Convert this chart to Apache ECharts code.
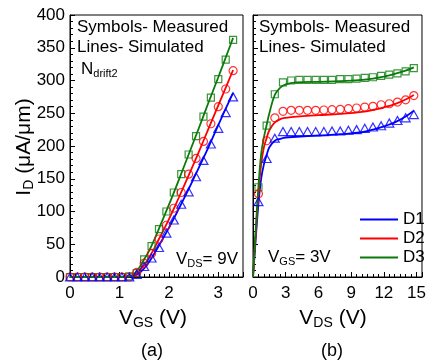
<!DOCTYPE html>
<html><head><meta charset="utf-8">
<script src="https://cdn.jsdelivr.net/npm/echarts@6/dist/echarts.min.js"></script>
<style>html,body{margin:0;padding:0;background:#fff}#c{width:429px;height:363px}</style>
</head><body><div id="c"></div>
<script>
// ---------- Panel (a): ID vs VGS, VDS = 9 V ----------
const vgsMeas = [0,0.15,0.3,0.45,0.6,0.75,0.9,1.05,1.2,1.35,1.5,1.65,1.8,1.95,2.1,2.25,2.4,2.55,2.7,2.85,3.0,3.15,3.3];
const aMeasD1 = [0,0,0,0,0,0,0,0,0,4,16,29,45,67,87,111,130,153,178,203,227,251,275];
const aMeasD2 = [0,0,0,0,0,0,0,0,0,7,21,36,58,79,105,129,157,181,207,234,260,287,315];
const aMeasD3 = [0,0,0,0,0,0,0,0,1,6,27,47,73,100,129,157,187,215,245,274,302,332,362];
const vgsSim = [0,0.5,1.0,1.2,1.3,1.4,1.5,1.6,1.7,1.8,2.0,2.2,2.4,2.6,2.8,3.0,3.2,3.3];
const aSimD1 = [0,0,0,1,2,6,13,23,35,48,75,104,134,166,198,232,265,281];
const aSimD2 = [0,0,0,1,3,9,18,30,43,58,88,121,155,190,226,262,298,316];
const aSimD3 = [0,0,0,1,5,14,27,40,56,74,110,148,187,226,266,305,345,365];

// ---------- Panel (b): ID vs VDS, VGS = 3 V ----------
const vdsMeas = [0.5,1.25,2.0,2.75,3.5,4.25,5.0,5.75,6.5,7.25,8.0,8.75,9.5,10.25,11.0,11.75,12.5,13.25,14.0,14.75];
const bMeasD1 = [115,181,212,222,222,222,222,222,222,223,223,224,225,227,229,231,235,239,243,248];
const bMeasD2 = [127,208,243,253,254.5,254.5,254.5,254.5,255,255.5,256,257,258,259.5,260.5,263,264.5,267,270.5,277];
const bMeasD3 = [137,231,279,297,300,301,301,301,301,301,302,302,303,304,305,307,309,311,314,319];
const vdsSim = [0,0.25,0.5,0.75,1.0,1.25,1.5,2.0,2.5,3.0,4.0,6.0,8.0,10.0,11.0,12.0,13.0,14.0,14.75];
const bSimD1 = [0,58,112,150,172,186,198,208,211,213,214,216,218,221,225,230,236,245,254];
const bSimD2 = [0,66,128,172,198,212,224,236,241,243,245,247,249,252,255,259,264,271,278];
const bSimD3 = [0,72,138,188,213,232,250,278,289,294,297,298,299,301,303,306,310,315,320];

const xTicksA = [0,1,2,3];
const xTicksB = [0,3,6,9,12,15];
const yTicks = [0,50,100,150,200,250,300,350,400];
const seriesNames = ['D1','D2','D3'];

const BLUE = '#0000FF', RED = '#FF0000', GREEN = '#0A7A0A';
const COLORS = [BLUE, RED, GREEN];
const FONT = '"Liberation Sans", Arial, Helvetica, sans-serif';

function pairs(xs, ys){ return xs.map((x,i)=>[x, ys[i]]); }

const chart = echarts.init(document.getElementById('c'), null, {renderer:'canvas'});

function xAxisCfg(gi, min, max, interval, minorSplit){
  return {
    gridIndex: gi, type:'value', min, max, interval,
    axisLine:{show:true, onZero:false, lineStyle:{color:'#000', width:1}},
    axisTick:{show:true, inside:true, length:5, lineStyle:{color:'#000'}},
    minorTick:{show:true, splitNumber:minorSplit, length:3, lineStyle:{color:'#000'}},
    splitLine:{show:false},
    axisLabel:{show:true, color:'#000', fontSize:17, fontFamily:FONT, margin:8, showMaxLabel:false, showMinLabel:true}
  };
}
function yAxisCfg(gi, showLabel){
  return {
    gridIndex: gi, type:'value', min:yTicks[0], max:yTicks[yTicks.length-1], interval:50,
    axisLine:{show:true, onZero:false, lineStyle:{color:'#000', width:1}},
    axisTick:{show:true, inside:true, length:5, lineStyle:{color:'#000'}},
    minorTick:{show:true, splitNumber:5, length:3, lineStyle:{color:'#000'}},
    splitLine:{show:false},
    axisLabel:{show:showLabel, color:'#000', fontSize:17, fontFamily:FONT, margin:5}
  };
}

const series = [];
const simA = [aSimD1, aSimD2, aSimD3], measA = [aMeasD1, aMeasD2, aMeasD3];
const simB = [bSimD1, bSimD2, bSimD3], measB = [bMeasD1, bMeasD2, bMeasD3];
const symbols = ['triangle','circle','rect'];
const symSizes = [[9,8],8,7];

// simulated lines
for (let k=0;k<3;k++){
  series.push({type:'line', name:seriesNames[k], xAxisIndex:0, yAxisIndex:0, data:pairs(vgsSim, simA[k]),
    showSymbol:false, smooth:0.4, lineStyle:{color:COLORS[k], width:1.8}, itemStyle:{color:COLORS[k]}, z:2});
  series.push({type:'line', name:seriesNames[k], xAxisIndex:1, yAxisIndex:1, data:pairs(vdsSim, simB[k]),
    showSymbol:false, smooth:0.4, lineStyle:{color:COLORS[k], width:1.8}, itemStyle:{color:COLORS[k]}, z:2});
}
// measured symbols (draw D3, D2, then D1 on top)
for (const k of [2,1,0]){
  const st = {color:'rgba(0,0,0,0)', borderColor:COLORS[k], borderWidth:1.2};
  series.push({type:'scatter', name:seriesNames[k]+' meas a', xAxisIndex:0, yAxisIndex:0, data:pairs(vgsMeas, measA[k]),
    symbol:symbols[k], symbolSize:symSizes[k], itemStyle:st, z:3});
  series.push({type:'scatter', name:seriesNames[k]+' meas b', xAxisIndex:1, yAxisIndex:1, data:pairs(vdsMeas, measB[k]),
    symbol:symbols[k], symbolSize:symSizes[k], itemStyle:st, z:3});
}

function txt(left, top, text, rich, extra){
  return Object.assign({type:'text', left, top, z:10, style:{text, rich, fill:'#000', fontFamily:FONT}}, extra||{});
}
const plain17 = {fontSize:17, fontFamily:FONT, color:'#000'};

const option = {
  animation:false,
  backgroundColor:'#fff',
  grid:[
    {left:70, top:15, width:173, height:262, show:true, borderColor:'#000', borderWidth:1, containLabel:false},
    {left:253, top:15, width:172, height:262, show:true, borderColor:'#000', borderWidth:1, containLabel:false}
  ],
  xAxis:[ xAxisCfg(0, xTicksA[0], 3.5, 1, 10), xAxisCfg(1, xTicksB[0], 15.5, 3, 6) ],
  yAxis:[ yAxisCfg(0, true), yAxisCfg(1, false) ],
  legend:{
    data:seriesNames, orient:'vertical', left:355, top:205, itemWidth:38, itemHeight:2, itemGap:0,
    icon:'rect', textStyle:{fontSize:17, fontFamily:FONT, color:'#000', lineHeight:19}, selectedMode:false
  },
  series,
  graphic:[
    txt(77, 19, '{a|Symbols- Measured}', {a:plain17}),
    txt(77, 39, '{a|Lines- Simulated}', {a:plain17}),
    txt(81, 61, '{a|N}{b|drift2}', {a:{fontSize:17, fontFamily:FONT}, b:{fontSize:11, fontFamily:FONT, padding:[9,0,0,0]}}),
    txt(176, 251, '{a|V}{b|DS}{a|= 9V}', {a:{fontSize:17, fontFamily:FONT}, b:{fontSize:11, fontFamily:FONT, padding:[9,0,0,0]}}),
    txt(259, 19, '{a|Symbols- Measured}', {a:plain17}),
    txt(259, 39, '{a|Lines- Simulated}', {a:plain17}),
    txt(268, 249, '{a|V}{b|GS}{a|= 3V}', {a:{fontSize:17, fontFamily:FONT}, b:{fontSize:11, fontFamily:FONT, padding:[9,0,0,0]}}),
    {type:'text', x:24, y:147, rotation:Math.PI/2, z:10,
      style:{text:'{a|I}{b|D}{a| (μA/μm)}', align:'center', verticalAlign:'middle',
        rich:{a:{fontSize:21, fontFamily:FONT}, b:{fontSize:14, fontFamily:FONT, padding:[10,0,0,0]}}}},
    {type:'text', x:153, y:318, z:10,
      style:{text:'{a|V}{b|GS}{a| (V)}', align:'center', verticalAlign:'middle',
        rich:{a:{fontSize:21, fontFamily:FONT}, b:{fontSize:14, fontFamily:FONT, padding:[10,0,0,0]}}}},
    {type:'text', x:333, y:318, z:10,
      style:{text:'{a|V}{b|DS}{a| (V)}', align:'center', verticalAlign:'middle',
        rich:{a:{fontSize:21, fontFamily:FONT}, b:{fontSize:14, fontFamily:FONT, padding:[10,0,0,0]}}}},
    {type:'text', x:152, y:351, z:10, style:{text:'(a)', align:'center', verticalAlign:'middle', fontSize:18, fontFamily:FONT, fill:'#000'}},
    {type:'text', x:332, y:351, z:10, style:{text:'(b)', align:'center', verticalAlign:'middle', fontSize:18, fontFamily:FONT, fill:'#000'}}
  ]
};
chart.setOption(option);
</script>
</body></html>
